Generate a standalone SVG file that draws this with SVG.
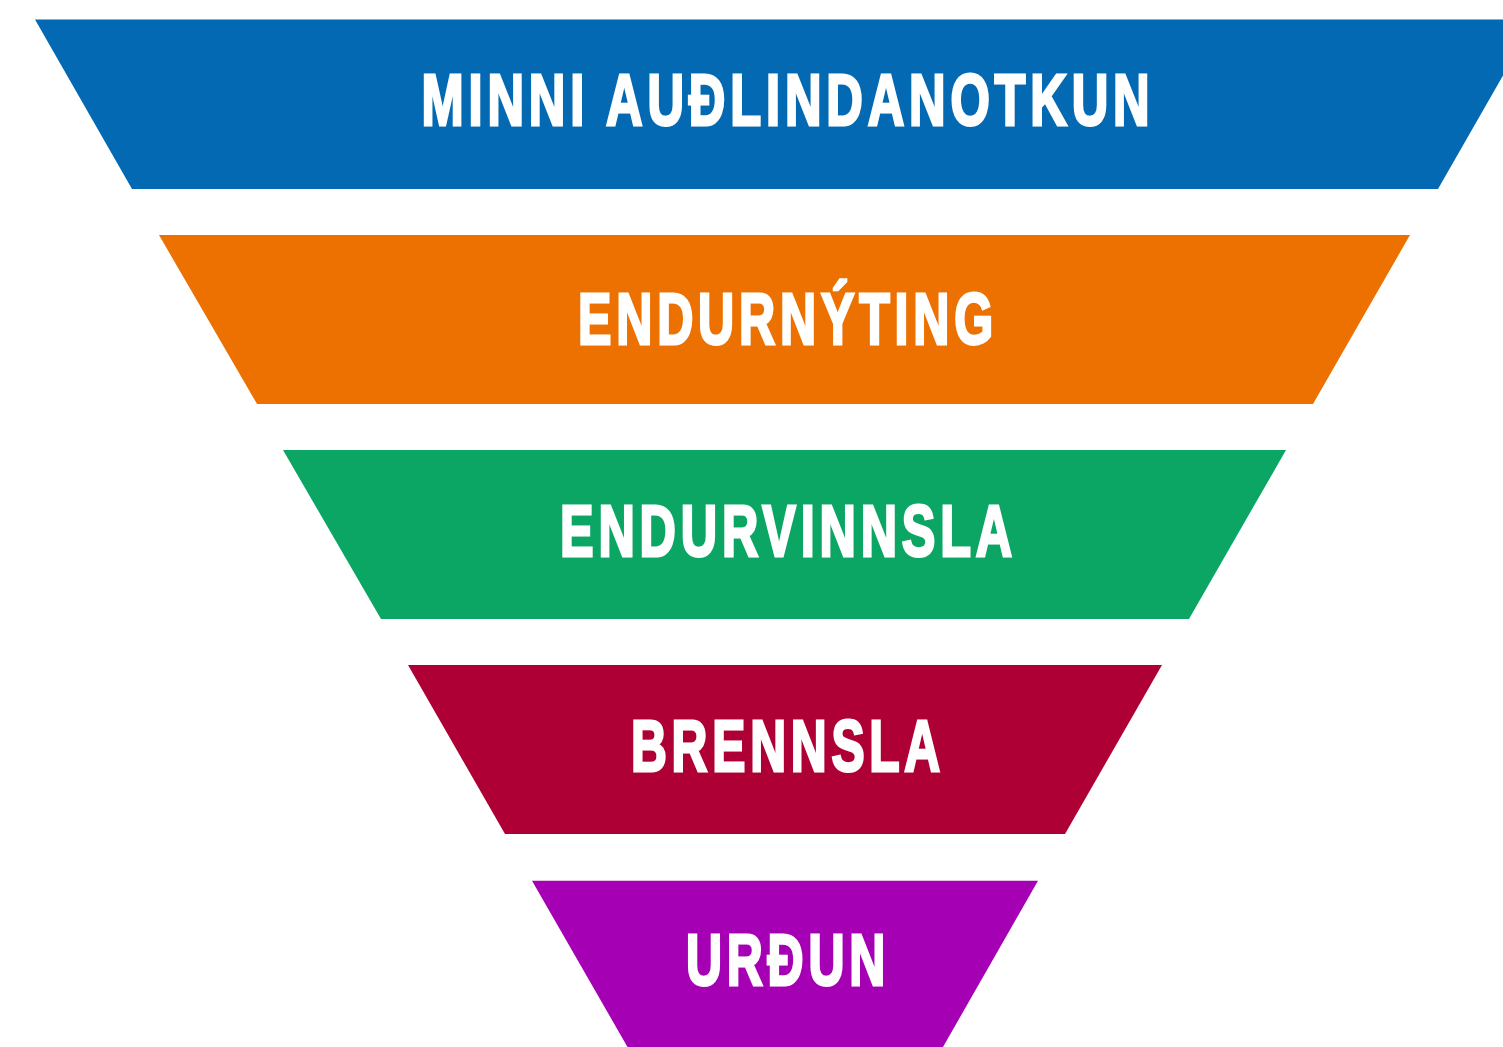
<svg xmlns="http://www.w3.org/2000/svg" width="1503" height="1047" viewBox="0 0 1503 1047">
<style>
.lbl{font-family:"Liberation Sans","Arial",sans-serif;font-weight:bold;font-size:73px;letter-spacing:7px;fill:#ffffff;stroke:#ffffff;stroke-width:3px;stroke-linejoin:miter;text-anchor:middle}
</style>
<rect width="1503" height="1047" fill="#ffffff"/>
<g id="level-1">
<polygon points="35,19.5 1535,19.5 1438,189 132,189" fill="#0369B3"/>
<text class="lbl" x="788" y="125" textLength="733" lengthAdjust="spacingAndGlyphs">MINNI AUÐLINDANOTKUN</text>
</g>
<g id="level-2">
<polygon points="159,235 1410,235 1313,404 257,404" fill="#EC7100"/>
<text class="lbl" x="788" y="344" textLength="420" lengthAdjust="spacingAndGlyphs">ENDURNÝTING</text>
</g>
<g id="level-3">
<polygon points="283,450 1286,450 1189,619 381,619" fill="#0BA663"/>
<text class="lbl" x="788.5" y="556" textLength="457" lengthAdjust="spacingAndGlyphs">ENDURVINNSLA</text>
</g>
<g id="level-4">
<polygon points="408,665 1162,665 1065,834 505,834" fill="#AE0034"/>
<text class="lbl" x="788" y="771" textLength="314" lengthAdjust="spacingAndGlyphs">BRENNSLA</text>
</g>
<g id="level-5">
<polygon points="532,880.7 1038,880.7 943,1047 627.5,1047" fill="#A600B5"/>
<text class="lbl" x="788" y="985" textLength="204" lengthAdjust="spacingAndGlyphs">URÐUN</text>
</g>
<g id="connectors"/>
</svg>
